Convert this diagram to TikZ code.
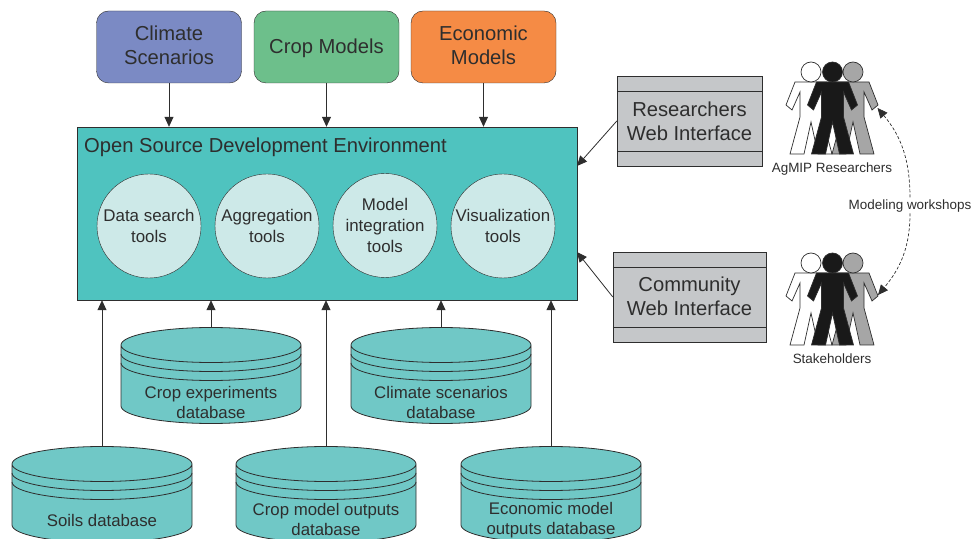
\documentclass[tikz,border=0pt]{standalone}
\usepackage{fontspec}
\setmainfont{Liberation Sans}
\usetikzlibrary{arrows.meta}

\definecolor{envteal}{HTML}{4FC3BF}
\definecolor{dbteal}{HTML}{70C8C6}
\definecolor{toolfill}{HTML}{CDE9E8}
\definecolor{webgrey}{HTML}{C5C7C9}
\definecolor{inkdark}{HTML}{2E2E2E}
\definecolor{climatefill}{HTML}{7B8AC4}
\definecolor{cropfill}{HTML}{6DBF8B}
\definecolor{economicfill}{HTML}{F58B45}

\tikzset{
  flow/.style={draw=inkdark, line width=0.8pt, -{Triangle[length=10pt,width=9pt]}},
  topbox/.style={draw=inkdark, rounded corners=12pt, minimum width=145pt, minimum height=72pt,
    align=center, font=\fontsize{20.2}{24}\selectfont, text=inkdark},
  tool/.style={circle, draw=inkdark, fill=toolfill, minimum size=104pt, inner sep=0pt,
    align=center, font=\fontsize{16.9}{21}\selectfont, text=inkdark},
  webbox/.style={draw=inkdark, fill=webgrey, minimum height=90pt,
    align=center, font=\fontsize{20.2}{24}\selectfont, text=inkdark},
  dblabel/.style={align=center, font=\fontsize{16.8}{20}\selectfont, text=inkdark},
  smalllabel/.style={font=\fontsize{13.45}{16}\selectfont, text=inkdark},
  % database stack, origin at the centre of the top ellipse
  dbstack/.pic={
    \draw[draw=inkdark, fill=dbteal, line width=0.8pt] (-90,0) -- (-90,-61) arc[start angle=180, end angle=360, x radius=90, y radius=17.5]
      -- (90,0) arc[start angle=0, end angle=360, x radius=90, y radius=17.5];
    \draw[draw=inkdark, line width=0.8pt] (-90,-9) arc[start angle=180, end angle=360, x radius=90, y radius=17.5];
    \draw[draw=inkdark, line width=0.8pt] (-90,-18) arc[start angle=180, end angle=360, x radius=90, y radius=17.5];
    \coordinate (-top) at (0,17.5);
  },
  % one figure, origin at the centre of the head
  figure/.pic={
    \draw[draw=inkdark, line width=0.7pt, fill=#1] (16,-10) -- (25,-33) -- (19,-38) -- (11,-20) -- (11,-45)
      -- (21,-82) -- (7,-82) -- (0,-50) -- (-7,-82) -- (-21,-82) -- (-11,-45) -- (-11,-20)
      -- (-19,-38) -- (-25,-33) -- (-16,-10) -- cycle;
    \draw[draw=inkdark, line width=0.7pt, fill=#1] (0,0) circle (10);
  },
  trio/.pic={
    \pic at (-21.5,0) {figure=white};
    \pic at (20.5,0) {figure={black!35}};
    \pic at (0,0) {figure=black!90};
  }
}

\begin{document}
\begin{tikzpicture}[x=1pt,y=1pt]
  \clip (0,0) rectangle (971,538);

  % Inputs
  \node[topbox, fill=climatefill, text depth=3pt] (climate) at (169,491) {Climate\\Scenarios};
  \node[topbox, fill=cropfill, text height=18pt] (crop) at (326.5,491) {Crop Models};
  \node[topbox, fill=economicfill, text depth=3pt] (economic) at (483.5,491) {Economic\\Models};

  % Environment
  \node[draw=inkdark, fill=envteal, minimum width=500pt, minimum height=173pt] (env) at (327,324.5) {};
  \node[anchor=west, inner sep=0pt, font=\fontsize{20.2}{24}\selectfont, text=inkdark] (envtitle) at (84,391) {Open Source Development Environment};

  % Tools
  \node[tool] (search) at (149,312) {Data search\\tools};
  \node[tool] (aggregation) at (267,312) {Aggregation\\tools};
  \node[tool] (integration) at (385,312.5) {Model\\integration\\tools};
  \node[tool] (visual) at (503,312) {Visualization\\tools};

  \draw[flow] (climate.south) -- (env.north -| climate.south);
  \draw[flow] (crop.south) -- (env.north -| crop.south);
  \draw[flow] (economic.south) -- (env.north -| economic.south);

  % Web interfaces
  \node[webbox, minimum width=145pt] (researchers) at (689.5,417) {Researchers\\Web Interface};
  \node[webbox, minimum width=153pt, text depth=2pt] (community) at (689.5,241) {Community\\Web Interface};
  \foreach \web in {researchers, community} {
    \draw[draw=inkdark] ([yshift=-15pt]\web.north west) -- ([yshift=-15pt]\web.north east);
    \draw[draw=inkdark] ([yshift=15pt]\web.south west) -- ([yshift=15pt]\web.south east);
  }
  \coordinate (envupper) at (577,372);
  \coordinate (envlower) at (577,286);
  \draw[flow] (researchers.west) -- (envupper);
  \draw[flow] (community.west) -- (envlower);

  % Databases
  \pic (cropdb) at (211,193) {dbstack};
  \pic (climatedb) at (441,193) {dbstack};
  \pic (soilsdb) at (102,74) {dbstack};
  \pic (outputsdb) at (326,74) {dbstack};
  \pic (economicdb) at (551,74) {dbstack};
  \node[dblabel] (cropdblabel) at (211,136) {Crop experiments\\database};
  \node[dblabel] (climatedblabel) at (441,136) {Climate scenarios\\database};
  \node[dblabel] (soilsdblabel) at (102,18) {Soils database};
  \node[dblabel] (outputsdblabel) at (326,18.5) {Crop model outputs\\database};
  \node[dblabel] (economicdblabel) at (551,17.5) {Economic model\\outputs database};

  \draw[flow] (cropdb-top) -- (env.south -| cropdb-top);
  \draw[flow] (climatedb-top) -- (env.south -| climatedb-top);
  \draw[flow] (soilsdb-top) -- (env.south -| soilsdb-top);
  \draw[flow] (outputsdb-top) -- (env.south -| outputsdb-top);
  \draw[flow] (economicdb-top) -- (env.south -| economicdb-top);

  % People
  \pic at (832.5,466) {trio};
  \pic at (832.5,275) {trio};
  \node[smalllabel] (agmip) at (832,369) {AgMIP Researchers};
  \node[smalllabel] (stake) at (832,179) {Stakeholders};

  \coordinate (agmiparm) at (877.5,430);
  \coordinate (stakearm) at (878,243);
  \node[smalllabel, fill=white, inner sep=1pt] (workshops) at (910,332) {Modeling workshops};
  \draw[densely dashed, draw=inkdark, line width=0.7pt, {Triangle[length=10pt,width=9pt]}-]
    (agmiparm) to[out=-50, in=90] (workshops.north);
  \draw[densely dashed, draw=inkdark, line width=0.7pt, -{Triangle[length=10pt,width=9pt]}]
    (workshops.south) to[out=-90, in=50] (stakearm);
\end{tikzpicture}
\end{document}
